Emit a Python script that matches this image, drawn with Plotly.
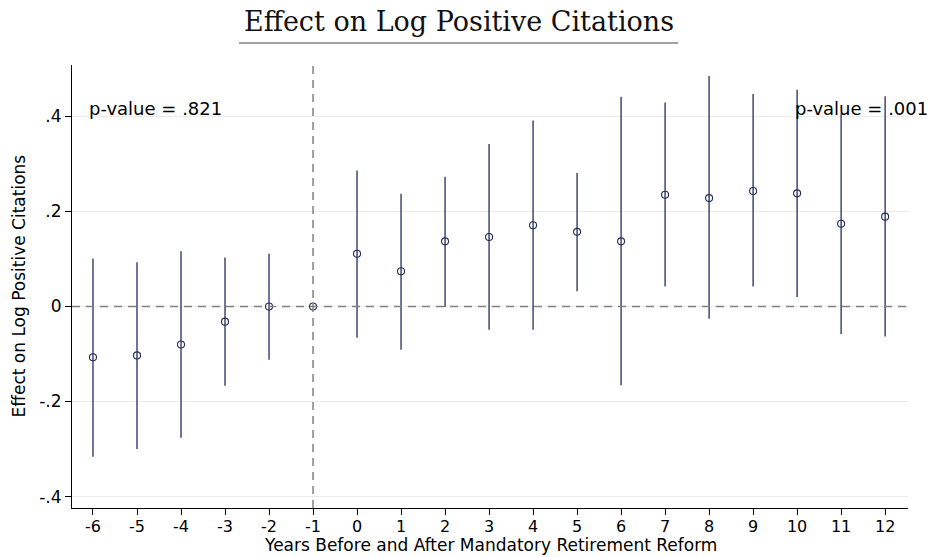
import plotly.graph_objects as go

# ---- data ----
years = [-6, -5, -4, -3, -2, -1, 0, 1, 2, 3, 4, 5, 6, 7, 8, 9, 10, 11, 12]
tick_labels = ["-6", "-5", "-4", "-3", "-2", "-1", "0", "1", "2", "3", "4", "5", "6",
               "7", "8", "9", "10", "11", "12"]
coef = [-0.107, -0.103, -0.080, -0.032, 0.000, 0.000, 0.111, 0.074, 0.137, 0.146,
        0.171, 0.157, 0.137, 0.235, 0.228, 0.243, 0.238, 0.174, 0.189]
ci_hi = [0.101, 0.093, 0.116, 0.103, 0.111, 0.000, 0.286, 0.237, 0.273, 0.342,
         0.391, 0.281, 0.441, 0.429, 0.485, 0.447, 0.456, 0.406, 0.442]
ci_lo = [-0.316, -0.300, -0.276, -0.167, -0.112, 0.000, -0.066, -0.091, -0.001, -0.049,
         -0.049, 0.032, -0.166, 0.042, -0.026, 0.042, 0.020, -0.058, -0.063]
y_ticks = [-0.4, -0.2, 0, 0.2, 0.4]
y_tick_labels = ["-.4", "-.2", "0", ".2", ".4"]
ref_year = -1
pvals = [("p-value = .821", -6.136, 0.416), ("p-value = .001", 9.909, 0.416)]
x_title = "Years Before and After Mandatory Retirement Reform"
y_title = "Effect on Log Positive Citations"
main_title = "Effect on Log Positive Citations"

navy = "#232d5c"
err_plus = [h - c for h, c in zip(ci_hi, coef)]
err_minus = [c - l for c, l in zip(coef, ci_lo)]

fig = go.Figure()
fig.add_trace(go.Scatter(
    x=years, y=coef, mode="markers",
    marker=dict(symbol="circle-open", size=7, color=navy, line=dict(width=1.1, color=navy)),
    error_y=dict(type="data", symmetric=False, array=err_plus, arrayminus=err_minus,
                 color=navy, thickness=1.3, width=0),
    showlegend=False, cliponaxis=False,
))

L, R, T, B = 72, 22, 65, 49
W, H = 930, 557
pw, ph = W - L - R, H - T - B

def px_x(p):
    return (p - L) / pw

def px_y(p):
    return (H - B - p) / ph

fig.update_layout(
    width=W, height=H,
    margin=dict(l=L, r=R, t=T, b=B, autoexpand=False),
    paper_bgcolor="white", plot_bgcolor="white",
    font=dict(family="DejaVu Sans", size=18, color="black"),
    xaxis=dict(range=[-6.477, 12.52], tickmode="array", tickvals=years, ticktext=tick_labels,
               showgrid=False, zeroline=False, showline=True, linecolor="black", linewidth=1,
               ticks="outside", ticklen=6, tickwidth=1, tickcolor="black",
               tickfont=dict(size=16), automargin=False, ticklabelstandoff=-2),
    yaxis=dict(range=[-0.424, 0.508], tickmode="array", tickvals=y_ticks, ticktext=y_tick_labels,
               showgrid=True, gridcolor="#ebebeb", gridwidth=1, zeroline=False,
               showline=True, linecolor="black", linewidth=1,
               ticks="outside", ticklen=6, tickwidth=1, tickcolor="black",
               tickfont=dict(size=17), automargin=False),
)

# axis titles
fig.add_annotation(text=x_title, xref="paper", yref="paper", x=0.5, y=px_y(557),
                   xanchor="center", yanchor="bottom", showarrow=False, font=dict(size=17))
fig.add_annotation(text=y_title, xref="paper", yref="paper", x=px_x(6), y=0.5,
                   xanchor="left", yanchor="middle", textangle=-90, showarrow=False,
                   font=dict(size=17))

# reference lines
fig.add_shape(type="line", xref="paper", yref="y", x0=0, x1=1, y0=0, y1=0,
              line=dict(color="#808080", width=1.5, dash="8px,6px"))
fig.add_shape(type="line", xref="x", yref="paper", x0=ref_year, x1=ref_year, y0=0, y1=1,
              line=dict(color="#808080", width=1.5, dash="8px,6px"))

# title and underline
fig.add_annotation(text=main_title, xref="paper", yref="paper",
                   x=px_x(458.5), y=px_y(22), xanchor="center", yanchor="middle",
                   showarrow=False, font=dict(family="DejaVu Serif", size=27, color="#111"))
fig.add_shape(type="line", xref="paper", yref="paper", x0=px_x(239), x1=px_x(678),
              y0=px_y(43), y1=px_y(43), line=dict(color="#444", width=1))

for txt, xv, yv in pvals:
    fig.add_annotation(text=txt, x=xv, y=yv, xref="x", yref="y", xanchor="left",
                       yanchor="middle", showarrow=False, font=dict(size=18, color="black"))

fig.write_html("out.html")
